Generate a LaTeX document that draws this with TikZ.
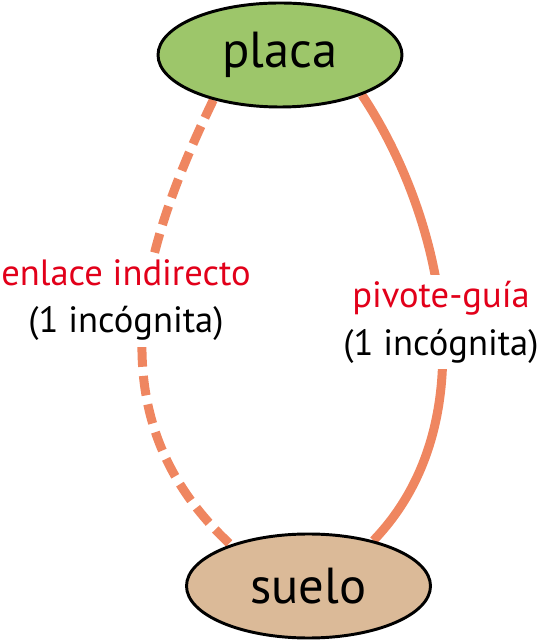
\documentclass[tikz,border=0pt]{standalone}
\usepackage{fontspec}
\setmainfont{PT Sans}
\usepackage{xcolor}
\usepackage{tikz}
\definecolor{linkorange}{RGB}{239, 134, 96}
\definecolor{labelred}{RGB}{226, 0, 26}
\definecolor{plategreen}{RGB}{157, 198, 106}
\definecolor{groundtan}{RGB}{219, 186, 152}
\usetikzlibrary{shapes.geometric,positioning,backgrounds}

\begin{document}
\begin{tikzpicture}[every node/.style={font=\fontsize{26}{34}\selectfont}]
    % Define styles
    \tikzstyle{body} = [ellipse, draw=black, line width=2.1pt, inner sep=0pt,
                        minimum width=6.1cm, minimum height=2.6cm,
                        font=\fontsize{36}{40}\selectfont]
    \tikzstyle{link} = [line width=6.4pt, linkorange]
    \tikzstyle{linklabel} = [fill=white, align=center, inner sep=4pt]

    \useasboundingbox (0,0) rectangle (13.65,16.025);

    % Bodies
    \node[body, fill=plategreen] (placa) at (7.0,14.65) {placa};
    \node[body, fill=groundtan] (suelo) at (7.7125,1.375) {suelo};

    % Connections
    \begin{scope}[on background layer]
    \draw[link, dash pattern=on 14pt off 6.5pt] (placa.214) .. controls (3.7,10.13) and (2.125,5.77) .. (suelo.152);
    \draw[link] (placa.334) .. controls (11.03,10.68) and (12.245,5.53) .. (suelo.35);
    \end{scope}

    % Labels
    \node[linklabel] (indirecto) at (3.15,8.525) {\textcolor{labelred}{enlace indirecto}\\(1 incógnita)};
    \node[linklabel] (pivote) at (11.025,7.975) {\textcolor{labelred}{pivote-guía}\\(1 incógnita)};
\end{tikzpicture}
\end{document}
